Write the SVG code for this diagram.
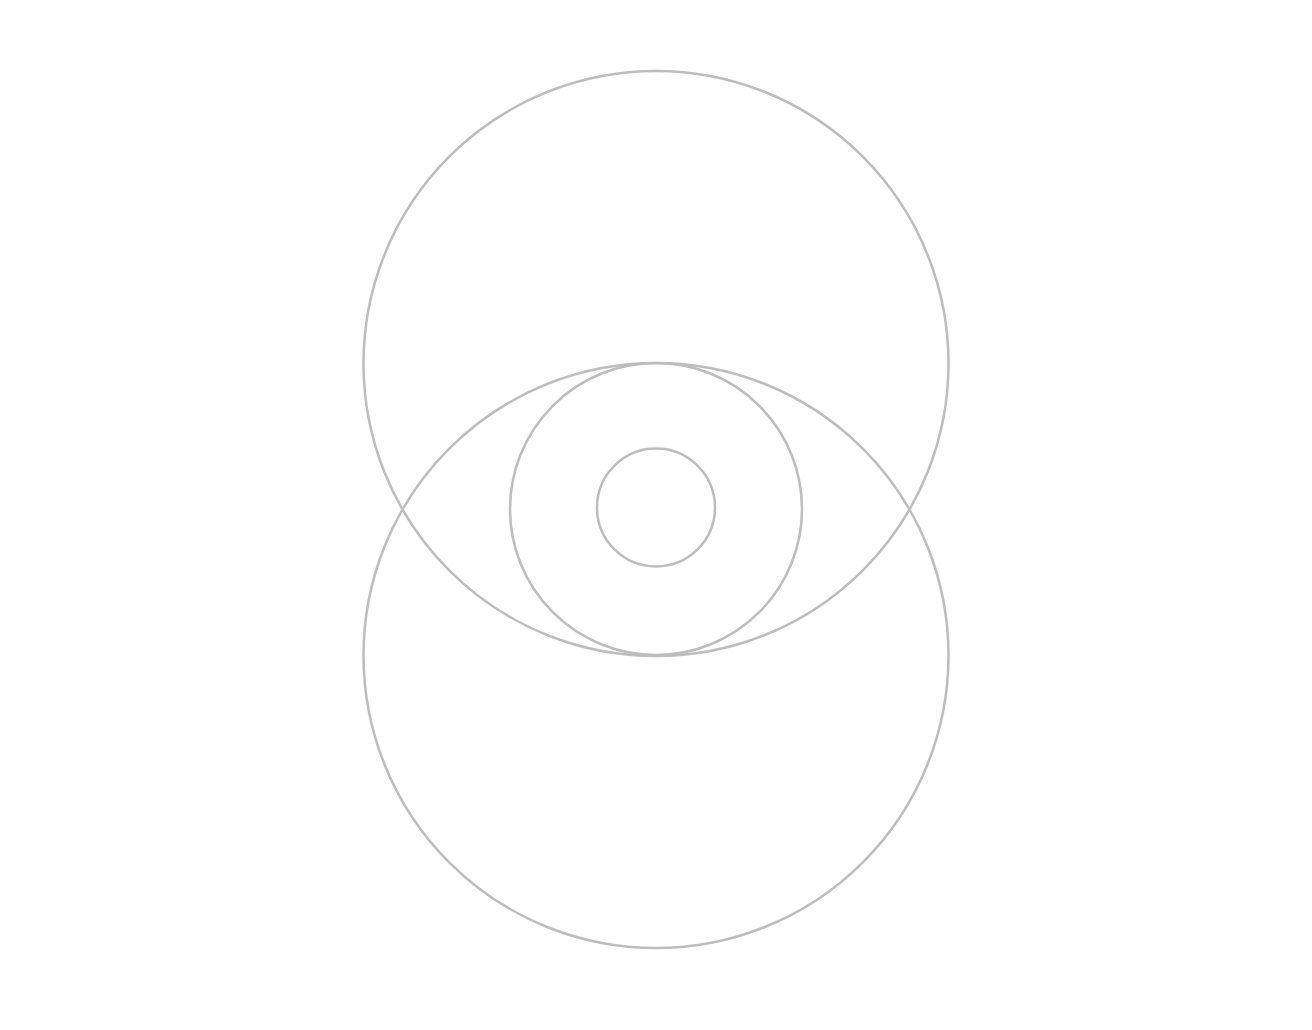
<svg xmlns="http://www.w3.org/2000/svg" width="1312" height="1030" viewBox="0 0 1312 1030">
<style>
.c{fill:none;stroke:#bdbdbd;stroke-width:2.5}
</style>
<rect width="1312" height="1030" fill="#ffffff"/>
<g id="top-circle"><circle class="c" cx="656" cy="363.5" r="292.5"/></g>
<g id="bottom-circle"><circle class="c" cx="656" cy="655.5" r="292.5"/></g>
<g id="middle-circle"><circle class="c" cx="656" cy="509" r="146"/></g>
<g id="inner-circle"><circle class="c" cx="656" cy="507.5" r="59"/></g>
<g id="connectors"></g>
</svg>
